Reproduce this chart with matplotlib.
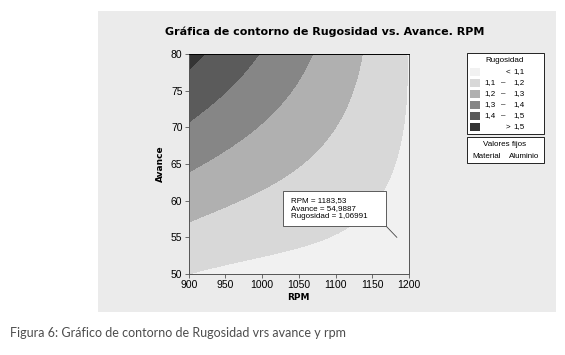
import numpy as np
import matplotlib.pyplot as plt
from matplotlib.patches import Rectangle

# niveles de contorno de Rugosidad y colores de cada banda
niveles = [1.1, 1.2, 1.3, 1.4, 1.5]
colores = ['#f1f1f1', '#d8d8d8', '#b0b0b0', '#868686', '#5b5b5b', '#343434']

# superficie de respuesta (ajustada a las curvas)
# u = (RPM - 1050) / 150, v = (Avance - 65) / 15
# terminos: 1, u, v, u2, v2, uv, u2v, uv2, u3, v3
coef_modelo = [1.20350, -0.10740, 0.13545, -0.00433, -0.00615,
               -0.09545, -0.00963, -0.00448, -0.00964, -0.00681]

rpm_ticks = [900, 950, 1000, 1050, 1100, 1150, 1200]
avance_ticks = [50, 55, 60, 65, 70, 75, 80]

# punto marcado
punto_rpm = 1183.53
punto_avance = 54.9887
punto_rug = 1.06991

W, H = 565, 355
fig = plt.figure(figsize=(W / 100, H / 100), dpi=100)
fig.patch.set_facecolor('white')


def fx(px):
    return px / W


def fy(py):
    return 1 - py / H


# panel gris
fig.add_artist(Rectangle((fx(98), fy(312)), fx(458), 301 / H, transform=fig.transFigure,
                         fc='#ebebeb', ec='none', zorder=-5))

ax = fig.add_axes([fx(188.7), fy(274), 220.3 / W, 220 / H])
rr, aa = np.meshgrid(np.linspace(900, 1200, 301), np.linspace(50, 80, 301))
uu = (rr - 1050) / 150
vv = (aa - 65) / 15
c = coef_modelo
zz = (c[0] + c[1]*uu + c[2]*vv + c[3]*uu**2 + c[4]*vv**2 + c[5]*uu*vv
      + c[6]*uu**2*vv + c[7]*uu*vv**2 + c[8]*uu**3 + c[9]*vv**3)
ax.contourf(rr, aa, zz, levels=[-10] + niveles + [10], colors=colores)
ax.set_xlim(rpm_ticks[0], rpm_ticks[-1])
ax.set_ylim(avance_ticks[0], avance_ticks[-1])
ax.set_xticks(rpm_ticks)
ax.set_yticks(avance_ticks)
ax.tick_params(direction='out', length=3, width=0.6, color='#555555', pad=1.5,
               labelsize=7.5)
for lab in ax.get_xticklabels() + ax.get_yticklabels():
    lab.set_fontfamily('Liberation Sans')
for s in ax.spines.values():
    s.set_color('#555555')
    s.set_linewidth(0.7)
ax.spines['top'].set_color('black')
ax.set_xlabel('RPM', fontsize=6.5, fontweight='bold', labelpad=2)
ax.set_ylabel('Avance', fontsize=6.5, fontweight='bold', labelpad=4)

fig.text(fx(325), fy(32), 'Gráfica de contorno de Rugosidad vs. Avance. RPM',
         ha='center', va='center', fontsize=8, fontweight='bold')

# leyenda
fig.add_artist(Rectangle((fx(467), fy(134)), 77 / W, 81 / H, transform=fig.transFigure,
                         fc='white', ec='black', lw=0.6))
fig.add_artist(Rectangle((fx(467), fy(163)), 77 / W, 26 / H, transform=fig.transFigure,
                         fc='white', ec='black', lw=0.6))
leg = dict(fontsize=5.8, family='Liberation Sans', va='center')
fig.text(fx(505), fy(60), 'Rugosidad', ha='center', **leg)
etq = [f'{x:.1f}'.replace('.', ',') for x in niveles]
for i, col in enumerate(colores):
    y = 71.7 + 11 * i
    fig.add_artist(Rectangle((fx(470), fy(y + 4)), 10 / W, 8 / H, transform=fig.transFigure,
                             fc=col, ec='none'))
    if i == 0:
        fig.text(fx(510), fy(y), '<', ha='right', **leg)
        fig.text(fx(513), fy(y), etq[0], ha='left', **leg)
    elif i == len(colores) - 1:
        fig.text(fx(510), fy(y), '>', ha='right', **leg)
        fig.text(fx(513), fy(y), etq[-1], ha='left', **leg)
    else:
        fig.text(fx(484), fy(y), etq[i - 1], ha='left', **leg)
        fig.text(fx(503), fy(y), '–', ha='center', **leg)
        fig.text(fx(513), fy(y), etq[i], ha='left', **leg)
fig.text(fx(505), fy(145), 'Valores fijos', ha='center', **leg)
fig.text(fx(472), fy(156), 'Material', ha='left', **leg)
fig.text(fx(539), fy(156), 'Aluminio', ha='right', **leg)

# anotacion del punto
fig.add_artist(Rectangle((fx(283), fy(226)), 103 / W, 35 / H, transform=fig.transFigure,
                         fc='white', ec='#444444', lw=0.6, zorder=3))
txt = (f'RPM = {punto_rpm:.2f}\nAvance = {punto_avance:.4f}\nRugosidad = {punto_rug:.5f}'
       ).replace('.', ',')
fig.text(fx(291), fy(208.5), txt, ha='left', va='center', fontsize=5.8,
         family='Liberation Sans', linespacing=1.15, zorder=4)
ax.annotate('', xy=(punto_rpm, punto_avance), xycoords='data',
            xytext=(386, H - 226), textcoords='figure pixels',
            arrowprops=dict(arrowstyle='-', color='#444444', lw=0.6, shrinkA=0, shrinkB=0))

fig.text(fx(10), fy(333), 'Figura 6: Gráfico de contorno de Rugosidad vrs avance y rpm',
         ha='left', va='center', fontsize=9, family='Lato', color='#4d4d4d')

fig.savefig('out.png', dpi=100)
